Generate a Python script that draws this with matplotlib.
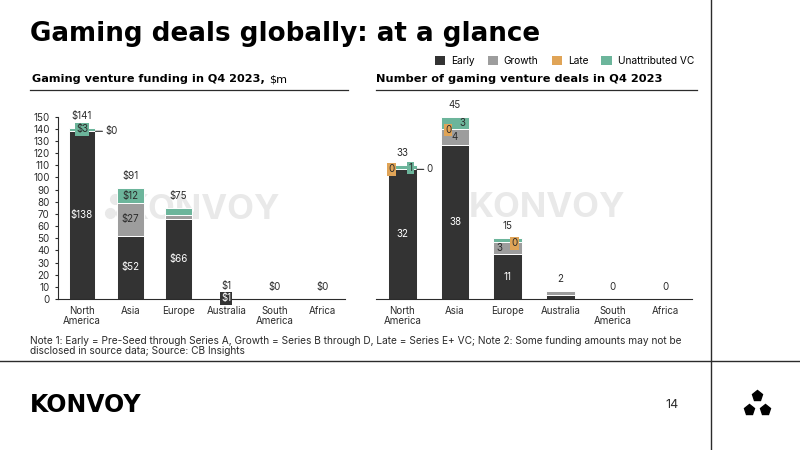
#!/usr/bin/env python

import matplotlib.pyplot as plt
from matplotlib.lines import Line2D
from matplotlib.patches import Patch

plt.rcParams['font.family'] = ['Inter', 'DejaVu Sans']

regions = ["North\nAmerica", "Asia", "Europe", "Australia", "South\nAmerica", "Africa"]
stages = ["Early", "Growth", "Late", "Unattributed VC"]
colors = ["#333333", "#9d9d9d", "#e0a457", "#6cb59b"]

# funding, $m
funding_early = [138, 52, 66, 1, 0, 0]
funding_growth = [0, 27, 3, 0, 0, 0]
funding_late = [0, 0, 0, 0, 0, 0]
funding_unattr = [3, 12, 6, 0, 0, 0]
funding_total = [141, 91, 75, 1, 0, 0]

# number of deals
deals_early = [32, 38, 11, 1, 0, 0]
deals_growth = [0, 4, 3, 1, 0, 0]
deals_late = [0, 0, 0, 0, 0, 0]
deals_unattr = [1, 3, 1, 0, 0, 0]
deals_total = [33, 45, 15, 2, 0, 0]

DARK = "#2b2b2b"
HEAD = ['DejaVu Sans']
W, H = 800, 450


def fx(px):
    return px / W


def fy(py):
    return 1 - py / H


def stacked(ax, series, width):
    x = list(range(len(regions)))
    bottom = [0] * len(regions)
    bottoms = []
    for vals, col in zip(series, colors):
        ax.bar(x, vals, width, bottom=bottom, color=col, edgecolor="white",
               linewidth=0.7, zorder=2)
        bottoms.append(list(bottom))
        bottom = [b + v for b, v in zip(bottom, vals)]
    return bottoms


def seg_label(ax, i, y, text, dx=0, box=None, tcolor=DARK):
    kw = {}
    if box is not None:
        kw["bbox"] = dict(boxstyle="square,pad=0.12", fc=box, ec="none")
    ax.annotate(text, (i, y), xytext=(dx, 0), textcoords="offset points",
                ha="center", va="center", fontsize=7, color=tcolor, zorder=5,
                **kw)


def leader(ax, i, y, text, half_w):
    ax.annotate(text, (i + half_w, y), xytext=(7, 0), textcoords="offset points",
                ha="left", va="center", fontsize=7, color=DARK, zorder=5,
                arrowprops=dict(arrowstyle="-", color=DARK, lw=0.8,
                                shrinkA=0, shrinkB=0))


def watermark(ax, x, y):
    ax.text(x, y, "KONVOY", transform=ax.transAxes, fontsize=25,
            fontweight="bold", color="#e9e9e9", ha="center", va="center",
            zorder=0.5)
    ax.plot([x - 0.30, x - 0.32, x - 0.28], [0.55, 0.47, 0.47], "o",
            transform=ax.transAxes, ms=7, color="#e9e9e9", zorder=0.5)


def style(ax):
    for s in ["top", "right"]:
        ax.spines[s].set_visible(False)
    ax.spines["bottom"].set_color(DARK)
    ax.spines["left"].set_color(DARK)
    ax.spines["bottom"].set_linewidth(0.8)
    ax.spines["left"].set_linewidth(0.8)
    ax.set_xticks(range(len(regions)))
    ax.set_xticklabels(regions, fontsize=7, color=DARK, linespacing=1.0)
    ax.tick_params(axis="x", length=0, pad=5)


fig = plt.figure(figsize=(8, 4.5), dpi=100)

# ---------------- funding chart
ax1 = fig.add_axes([fx(58), fy(299), fx(345 - 58), (299 - 116.7) / H])
style(ax1)
width1 = 0.56
b1 = stacked(ax1, [funding_early, funding_growth, funding_late, funding_unattr], width1)
ax1.set_xlim(-0.5, 5.47)
ax1.set_ylim(0, 150)
ax1.set_yticks(range(0, 151, 10))
ax1.tick_params(axis="y", labelsize=7, labelcolor=DARK, length=2, color=DARK, pad=4)
watermark(ax1, 0.50, 0.49)

for i, t in enumerate(funding_total):
    ax1.annotate(f"${t}", (i, t), xytext=(0, 5), textcoords="offset points",
                 ha="center", va="bottom", fontsize=7, color=DARK)
for i in range(len(regions)):
    if funding_early[i] >= 10:
        seg_label(ax1, i, funding_early[i] / 2, f"${funding_early[i]}", tcolor="white")
    if funding_growth[i] >= 10:
        seg_label(ax1, i, b1[1][i] + funding_growth[i] / 2, f"${funding_growth[i]}")
    if funding_unattr[i] >= 10:
        seg_label(ax1, i, b1[3][i] + funding_unattr[i] / 2, f"${funding_unattr[i]}")
# small segments
seg_label(ax1, 0, b1[3][0] + funding_unattr[0] / 2, f"${funding_unattr[0]}", box=colors[3])
leader(ax1, 0, b1[1][0], f"${funding_growth[0]}", width1 / 2)
seg_label(ax1, 3, funding_early[3] / 2, f"${funding_early[3]}", box=colors[0], tcolor="white")

# ---------------- deals chart
ax2 = fig.add_axes([fx(376), fy(299), fx(692 - 376), (299 - 116.7) / H])
style(ax2)
ax2.spines["left"].set_visible(False)
ax2.set_yticks([])
width2 = 0.55
b2 = stacked(ax2, [deals_early, deals_growth, deals_late, deals_unattr], width2)
ax2.set_xlim(-0.5, 5.5)
ax2.set_ylim(0, 45)
watermark(ax2, 0.54, 0.50)

for i, t in enumerate(deals_total):
    ax2.annotate(f"{t}", (i, t), xytext=(0, 5), textcoords="offset points",
                 ha="center", va="bottom", fontsize=7, color=DARK)
for i in range(3):
    seg_label(ax2, i, deals_early[i] / 2, f"{deals_early[i]}", tcolor="white")
seg_label(ax2, 1, b2[1][1] + deals_growth[1] / 2, f"{deals_growth[1]}")
seg_label(ax2, 2, b2[1][2] + deals_growth[2] / 2, f"{deals_growth[2]}", dx=-6)
seg_label(ax2, 1, b2[3][1] + deals_unattr[1] / 2, f"{deals_unattr[1]}", dx=5)
seg_label(ax2, 0, b2[3][0] + 0.3, f"{deals_unattr[0]}", dx=6, box=colors[3])
seg_label(ax2, 0, b2[2][0], f"{deals_late[0]}", dx=-8, box=colors[2])
seg_label(ax2, 1, b2[2][1] - 0.3, f"{deals_late[1]}", dx=-5, box=colors[2])
seg_label(ax2, 2, b2[2][2] - 0.3, f"{deals_late[2]}", dx=5, box=colors[2])
leader(ax2, 0, b2[1][0], f"{deals_growth[0]}", width2 / 2)

# ---------------- page furniture
fig.text(fx(30), fy(41), "Gaming deals globally: at a glance", fontsize=18.8,
         fontweight="bold", color="black", ha="left", va="baseline", family=HEAD)

handles = [Patch(facecolor=c, edgecolor="none") for c in colors]
fig.legend(handles, stages, loc="center right", bbox_to_anchor=(fx(699), fy(61)),
           ncol=4, fontsize=7.3, frameon=False, handlelength=1.0, handleheight=1.0,
           handletextpad=0.6, columnspacing=1.3, borderpad=0)

sub1 = fig.text(fx(32), fy(82), "Gaming venture funding in Q4 2023,", fontsize=8.1,
                fontweight="bold", color="black", va="baseline", family=HEAD)
fig.canvas.draw()
bb = sub1.get_window_extent()
fig.text(bb.x1 / W + fx(4), fy(82), "$m", fontsize=8.1, color="black",
         va="baseline", family=HEAD)
fig.text(fx(376), fy(82), "Number of gaming venture deals in Q4 2023", fontsize=8.2,
         fontweight="bold", color="black", va="baseline", family=HEAD)
fig.add_artist(Line2D([fx(30), fx(348)], [fy(90), fy(90)], color=DARK, lw=0.9))
fig.add_artist(Line2D([fx(376), fx(697)], [fy(90), fy(90)], color=DARK, lw=0.9))

fig.text(fx(30), fy(346), "Note 1: Early = Pre-Seed through Series A, Growth = Series B through D, "
         "Late = Series E+ VC; Note 2: Some funding amounts may not be\n"
         "disclosed in source data; Source: CB Insights",
         fontsize=7.3, color=DARK, va="center", linespacing=0.95)

fig.add_artist(Line2D([0, 1], [fy(361), fy(361)], color=DARK, lw=1.0))
fig.add_artist(Line2D([fx(711), fx(711)], [0, 1], color=DARK, lw=1.0))

fig.text(fx(30), fy(405), "KONVOY", fontsize=17, fontweight="bold", color="black",
         va="center", family=HEAD)
fig.text(fx(672), fy(405), "14", fontsize=9, color=DARK, va="center", ha="center")
fig.add_artist(Line2D([fx(757), fx(749), fx(765)], [fy(396), fy(410), fy(410)],
                      ls="none", marker="p", ms=8, color="black"))

fig.savefig("out.png", dpi=100)
